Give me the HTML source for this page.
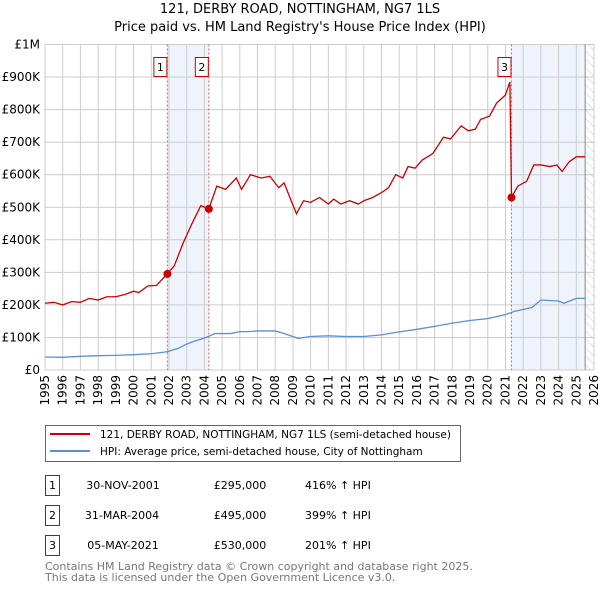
<!DOCTYPE html>
<html><head><meta charset="utf-8"><style>
body{margin:0;background:#fff;font-family:"DejaVu Sans","Liberation Sans",sans-serif}
svg text{font-family:"DejaVu Sans","Liberation Sans",sans-serif}
</style></head><body>
<svg id="c" width="600" height="590" xmlns="http://www.w3.org/2000/svg">
<defs><pattern id="hatch" width="6" height="6" patternUnits="userSpaceOnUse" patternTransform="rotate(-45)"><line x1="0" y1="0" x2="0" y2="6" stroke="#ccc" stroke-width="1"/></pattern></defs>
<text x="300" y="13" text-anchor="middle" font-size="13" fill="#000">121, DERBY ROAD, NOTTINGHAM, NG7 1LS</text>
<text x="300" y="31" text-anchor="middle" font-size="13" fill="#000">Price paid vs. HM Land Registry's House Price Index (HPI)</text>
<g id="plot"></g>
<g>
<rect x="45.5" y="425.5" width="415" height="36" fill="#fff" stroke="#666"/>
<line x1="50" y1="434" x2="90" y2="434" stroke="#cc0000" stroke-width="2"/>
<text x="100" y="438" font-size="10.5">121, DERBY ROAD, NOTTINGHAM, NG7 1LS (semi-detached house)</text>
<line x1="50" y1="451" x2="90" y2="451" stroke="#5b8fd6" stroke-width="2"/>
<text x="100" y="455" font-size="10.5">HPI: Average price, semi-detached house, City of Nottingham</text>
</g>
<g font-size="11">
<rect x="45.5" y="475.5" width="14" height="20" fill="#fff" stroke="#cc0000"/><text x="52.5" y="489" text-anchor="middle">1</text>
<text x="123" y="489" text-anchor="middle">30-NOV-2001</text><text x="240" y="489" text-anchor="middle">£295,000</text><text x="305" y="489">416% ↑ HPI</text>
<rect x="45.5" y="505.5" width="14" height="20" fill="#fff" stroke="#cc0000"/><text x="52.5" y="519" text-anchor="middle">2</text>
<text x="122" y="519" text-anchor="middle">31-MAR-2004</text><text x="240" y="519" text-anchor="middle">£495,000</text><text x="305" y="519">399% ↑ HPI</text>
<rect x="45.5" y="535.5" width="14" height="20" fill="#fff" stroke="#cc0000"/><text x="52.5" y="549" text-anchor="middle">3</text>
<text x="123" y="549" text-anchor="middle">05-MAY-2021</text><text x="240" y="549" text-anchor="middle">£530,000</text><text x="305" y="549">201% ↑ HPI</text>
</g>
<text x="45" y="570" font-size="11" fill="#777">Contains HM Land Registry data © Crown copyright and database right 2025.</text>
<text x="45" y="581" font-size="11" fill="#777">This data is licensed under the Open Government Licence v3.0.</text>
</svg>
<script>
const yTicks=[0,100,200,300,400,500,600,700,800,900,1000];
const yTickLabels=["£0","£100K","£200K","£300K","£400K","£500K","£600K","£700K","£800K","£900K","£1M"];
const xYears=[1995,1996,1997,1998,1999,2000,2001,2002,2003,2004,2005,2006,2007,2008,2009,2010,2011,2012,2013,2014,2015,2016,2017,2018,2019,2020,2021,2022,2023,2024,2025,2026];
const priceT=[1995,1995.5,1996,1996.5,1997,1997.5,1998,1998.5,1999,1999.5,2000,2000.3,2000.8,2001.3,2001.9,2002.3,2002.8,2003.3,2003.8,2004.25,2004.7,2005.2,2005.8,2006.1,2006.6,2007.2,2007.7,2008.2,2008.5,2008.9,2009.2,2009.6,2010,2010.5,2011,2011.3,2011.7,2012.2,2012.7,2013,2013.5,2014,2014.4,2014.8,2015.2,2015.5,2015.9,2016.3,2016.9,2017.5,2017.9,2018.5,2018.9,2019.3,2019.6,2020.1,2020.5,2021.0,2021.25,2021.34,2021.7,2022.2,2022.6,2023.0,2023.5,2023.9,2024.2,2024.6,2025.0,2025.5];
const priceV=[205,208,200,210,208,220,215,225,225,232,242,238,258,260,295,320,390,450,505,495,565,555,590,555,600,590,595,560,575,520,480,520,515,530,510,525,510,520,510,520,530,545,560,600,590,625,620,645,665,715,710,750,735,740,770,780,820,845,885,530,565,580,630,630,625,630,610,640,655,655];
const hpiT=[1995,1996,1997,1998,1999,2000,2001,2001.9,2002.5,2003,2003.5,2004,2004.6,2005.5,2006,2006.5,2007,2008,2008.5,2009.3,2010,2011,2012,2013,2014,2015,2016,2017,2018,2019,2020,2021,2021.5,2022.5,2023,2024,2024.3,2025,2025.5];
const hpiV=[40,39,42,44,45,47,50,56,66,80,90,98,112,112,118,118,120,120,112,97,103,105,103,103,108,117,125,134,144,152,158,170,180,192,215,212,205,220,220];
const saleT=[2001.91,2004.25,2021.34];
const saleV=[295,495,530];
const saleLabels=["1","2","3"];
const X0=45,X1=594,Y0=370,Y1=44.5;
const xs=t=>X0+(t-1995)/(2026-1995)*(X1-X0);
const ys=v=>Y0-v/1000*(Y0-Y1);
const NS="http://www.w3.org/2000/svg";
const g=document.getElementById('plot');
function mk(tag,attrs,parent){const e=document.createElementNS(NS,tag);for(const k in attrs)e.setAttribute(k,attrs[k]);(parent||g).appendChild(e);return e;}
let s1=mk('rect',{x:xs(saleT[0]),y:Y1,width:xs(saleT[1])-xs(saleT[0]),height:Y0-Y1,fill:'#eef3fc'});


let s2=mk('rect',{x:xs(saleT[2]),y:Y1,width:xs(2025.5)-xs(saleT[2]),height:Y0-Y1,fill:'#eef3fc'});


let hz=mk('rect',{x:xs(2025.5),y:Y1,width:X1-xs(2025.5),height:Y0-Y1,fill:'url(#hatch)'});


yTicks.forEach((v,i)=>{
 const l=mk('line',{x1:X0,x2:X1,y1:ys(v),y2:ys(v),stroke:'#ccc','stroke-width':1});
 
 
 const t=mk('text',{x:X0-5,y:ys(v)+4,'text-anchor':'end','font-size':12,fill:'#000'});
 t.textContent=yTickLabels[i];
 
 
});
xYears.forEach(yr=>{
 const l=mk('line',{x1:xs(yr),x2:xs(yr),y1:Y1,y2:Y0,stroke:'#ccc','stroke-width':1});
 
 
 const t=mk('text',{x:0,y:0,'text-anchor':'end','font-size':12,transform:`translate(${xs(yr)+4},375) rotate(-90)`});
 t.textContent=yr;
 
 
});
let ed=mk('line',{x1:xs(2025.5),x2:xs(2025.5),y1:Y1,y2:Y0,stroke:'#888','stroke-width':1});


saleT.forEach((t,i)=>{
 const l=mk('line',{x1:xs(t),x2:xs(t),y1:Y1,y2:Y0,stroke:'#e06060','stroke-width':1,'stroke-dasharray':'2,2'});
 
 
 const r=mk('rect',{x:xs(t)-13.5,y:57.5,width:13,height:19,fill:'#fff',stroke:'#cc0000'});
 
 
 const tx=mk('text',{x:xs(t)-7,y:71,'text-anchor':'middle','font-size':11});
 tx.textContent=saleLabels[i];
 
 
});
const hp=mk('polyline',{points:hpiT.map((t,i)=>xs(t)+','+ys(hpiV[i])).join(' '),fill:'none',stroke:'#5b8fd6','stroke-width':1.3});


const pp=mk('polyline',{points:priceT.map((t,i)=>xs(t)+','+ys(priceV[i])).join(' '),fill:'none',stroke:'#cc0000','stroke-width':1.3});


saleT.forEach((t,i)=>{
 const c=mk('circle',{cx:xs(t),cy:ys(saleV[i]),r:4,fill:'#cc0000'});
 
 
});
</script>
</body></html>
